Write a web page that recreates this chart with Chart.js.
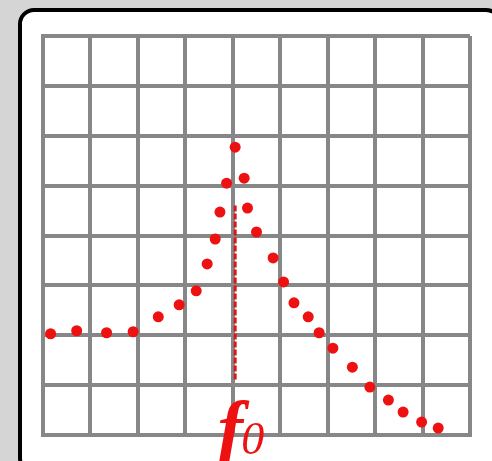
<!DOCTYPE html>
<html>
<head>
<meta charset="utf-8">
<script src="https://cdn.jsdelivr.net/npm/chart.js@4/dist/chart.umd.min.js"></script>
<style>
  html, body { margin: 0; padding: 0; }
  body { width: 492px; height: 461px; background: #d5d5d5; position: relative; overflow: hidden; }
  .frame {
    position: absolute; left: 18px; top: 8px; width: 484px; height: 466px;
    box-sizing: border-box; background: #ffffff;
    border: 4px solid #000000; border-radius: 16px;
  }
  #wrap { position: absolute; left: 0; top: 0; width: 492px; height: 461px; }
</style>
</head>
<body>
<div class="frame"></div>
<div id="wrap"><canvas id="c" width="492" height="461"></canvas></div>
<script>
// Resonance curve: response vs. frequency, peaking at the resonant frequency f0
const freq = [0.16, 0.71, 1.34, 1.90, 2.43, 2.87, 3.23, 3.46, 3.63, 3.73, 3.87, 4.05, 4.24,
              4.31, 4.50, 4.85, 5.07, 5.29, 5.59, 5.82, 6.11, 6.52, 6.89, 7.28, 7.59, 7.98, 8.33];
const response = [2.03, 2.09, 2.05, 2.07, 2.37, 2.61, 2.89, 3.43, 3.93, 4.47, 5.05, 5.77, 5.15,
                  4.55, 4.07, 3.55, 3.07, 2.65, 2.37, 2.05, 1.74, 1.36, 0.96, 0.70, 0.46, 0.26, 0.14];
const f0 = 4.05;
const markerSpan = [4.6, 1.1];
const labelMain = "f";
const labelSub = "0";

const points = freq.map((x, i) => ({ x: x, y: response[i] }));
const marker = markerSpan.map(y => ({ x: f0, y: y }));

const f0Label = {
  id: 'f0Label',
  afterDraw(chart) {
    const ctx = chart.ctx;
    const xp = chart.scales.x.getPixelForValue(f0);
    ctx.save();
    ctx.fillStyle = '#ee1111';
    ctx.textBaseline = 'alphabetic';
    ctx.textAlign = 'right';
    ctx.font = 'italic bold 76px "Liberation Serif"';
    ctx.fillText(labelMain, xp + 8, 454);
    ctx.textAlign = 'left';
    ctx.font = 'italic 46px "Liberation Serif"';
    ctx.fillText(labelSub, xp + 6, 454);
    ctx.restore();
  }
};

const gridColor = '#878787';
new Chart(document.getElementById('c'), {
  type: 'scatter',
  data: {
    datasets: [
      {
        data: marker,
        showLine: true,
        borderColor: '#d81818',
        borderWidth: 3,
        borderDash: [6, 2],
        pointRadius: 0,
        order: 2
      },
      {
        data: points,
        showLine: false,
        backgroundColor: '#ee1111',
        borderColor: '#ee1111',
        pointRadius: 5.5,
        pointBorderWidth: 0,
        order: 1
      }
    ]
  },
  options: {
    responsive: false,
    animation: false,
    events: [],
    layout: { padding: { left: 43, top: 36, right: 22, bottom: 26 } },
    plugins: { legend: { display: false }, tooltip: { enabled: false } },
    scales: {
      x: {
        type: 'linear', min: 0, max: 9,
        ticks: { display: false, stepSize: 1 },
        grid: { color: gridColor, lineWidth: 4, drawTicks: false },
        border: { color: gridColor, width: 4 }
      },
      y: {
        type: 'linear', min: 0, max: 8,
        ticks: { display: false, stepSize: 1 },
        grid: { color: gridColor, lineWidth: 4, drawTicks: false },
        border: { color: gridColor, width: 4 }
      }
    }
  },
  plugins: [f0Label]
});
</script>
</body>
</html>
